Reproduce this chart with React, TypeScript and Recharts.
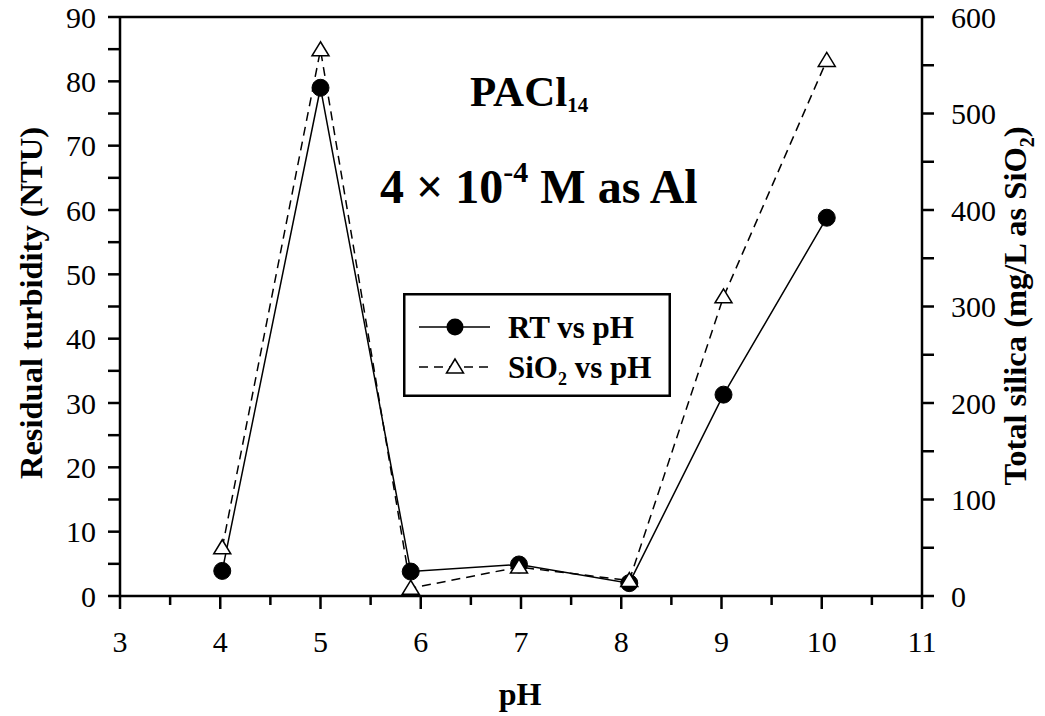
import React from 'react';
import { LineChart, Line, XAxis, YAxis, ReferenceLine, Legend } from 'recharts';

const phValues = [4.02, 5.0, 5.9, 6.98, 8.08, 9.02, 10.05];
const rtValues = [3.9, 79.0, 3.8, 4.9, 2.0, 31.3, 58.8];
const sio2Values = [50, 566, 8, 30, 16, 310, 555];

const xTicks = [3, 3.5, 4, 4.5, 5, 5.5, 6, 6.5, 7, 7.5, 8, 8.5, 9, 9.5, 10, 10.5, 11];
const leftTicks = [0, 5, 10, 15, 20, 25, 30, 35, 40, 45, 50, 55, 60, 65, 70, 75, 80, 85, 90];
const rightTicks = [0, 50, 100, 150, 200, 250, 300, 350, 400, 450, 500, 550, 600];

const data = phValues.map((ph, i) => ({ ph, rt: rtValues[i], sio2: sio2Values[i] }));

const FONT = '"Liberation Serif", "Times New Roman", serif';
const W = 1045;
const H = 716;

const BottomTick = (props: any) => {
  const { x, y, payload } = props;
  const v = payload.value;
  const major = Math.abs(v - Math.round(v)) < 1e-6;
  return (
    <g>
      <line x1={x} x2={x} y1={y} y2={y + (major ? 13 : 9)} stroke="#000" strokeWidth={2.5} />
      {major && (
        <text x={x} y={y + 56} textAnchor="middle" fontFamily={FONT} fontSize={30} fill="#000">
          {v}
        </text>
      )}
    </g>
  );
};

const LeftTick = (props: any) => {
  const { x, y, payload } = props;
  const v = payload.value;
  const major = v % 10 === 0;
  return (
    <g>
      <line x1={x - 12} x2={x} y1={y} y2={y} stroke="#000" strokeWidth={2.5} />
      {major && (
        <text x={x - 24} y={y} dy="0.35em" textAnchor="end" fontFamily={FONT} fontSize={30} fill="#000">
          {v}
        </text>
      )}
    </g>
  );
};

const RightTick = (props: any) => {
  const { x, y, payload } = props;
  const v = payload.value;
  const major = v % 100 === 0;
  return (
    <g>
      <line x1={x} x2={x + 12} y1={y} y2={y} stroke="#000" strokeWidth={2.5} />
      {major && (
        <text x={x + 29} y={y} dy="0.35em" textAnchor="start" fontFamily={FONT} fontSize={30} fill="#000">
          {v}
        </text>
      )}
    </g>
  );
};

const CircleDot = (props: any) => {
  const { cx, cy, index } = props;
  if (cx == null || cy == null) return <g key={index} />;
  return <circle key={index} cx={cx} cy={cy} r={8.5} fill="#000" stroke="#000" strokeWidth={1} />;
};

const TriangleDot = (props: any) => {
  const { cx, cy, index } = props;
  if (cx == null || cy == null) return <g key={index} />;
  const pts = `${cx},${cy - 8} ${cx - 8.5},${cy + 6} ${cx + 8.5},${cy + 6}`;
  return <polygon key={index} points={pts} fill="#fff" stroke="#000" strokeWidth={1.5} />;
};

const LegendContent = () => (
  <svg width={268} height={104} style={{ display: 'block' }}>
    <rect x={1.25} y={1.25} width={265.5} height={101.5} fill="#fff" stroke="#000" strokeWidth={2.5} />
    <line x1={16} x2={87} y1={34} y2={34} stroke="#000" strokeWidth={1.5} />
    <circle cx={52} cy={34} r={8.5} fill="#000" />
    <text x={105} y={34} dy="0.35em" fontFamily={FONT} fontWeight="bold" fontSize={31} fill="#000">
      RT vs pH
    </text>
    <line x1={16} x2={87} y1={74} y2={74} stroke="#000" strokeWidth={1.5} strokeDasharray="9 6" />
    <polygon points={`52,66 43.5,80 60.5,80`} fill="#fff" stroke="#000" strokeWidth={1.5} />
    <text x={105} y={74} dy="0.35em" fontFamily={FONT} fontWeight="bold" fontSize={31} fill="#000">
      SiO<tspan fontSize={18} dy={7}>2</tspan>
      <tspan dy={-7}> vs pH</tspan>
    </text>
  </svg>
);

export default function App() {
  return (
    <div style={{ position: 'absolute', left: 0, top: 0, width: W, height: H, background: '#fff' }}>
      <LineChart width={W} height={H} data={data} margin={{ top: 17, right: 0, bottom: 0, left: 0 }}>
        <XAxis
          dataKey="ph"
          type="number"
          domain={[3, 11]}
          ticks={xTicks}
          interval={0}
          height={120}
          tickLine={false}
          tickSize={0}
          tickMargin={0}
          axisLine={{ stroke: '#000', strokeWidth: 2.5 }}
          tick={<BottomTick />}
          allowDataOverflow
        />
        <YAxis
          yAxisId="left"
          orientation="left"
          type="number"
          domain={[0, 90]}
          ticks={leftTicks}
          interval={0}
          width={120}
          tickLine={false}
          tickSize={0}
          tickMargin={0}
          axisLine={{ stroke: '#000', strokeWidth: 2.5 }}
          tick={<LeftTick />}
          allowDataOverflow
        />
        <YAxis
          yAxisId="right"
          orientation="right"
          type="number"
          domain={[0, 600]}
          ticks={rightTicks}
          interval={0}
          width={123}
          tickLine={false}
          tickSize={0}
          tickMargin={0}
          axisLine={{ stroke: '#000', strokeWidth: 2.5 }}
          tick={<RightTick />}
          allowDataOverflow
        />
        <ReferenceLine yAxisId="left" y={90} stroke="#000" strokeWidth={2.5} ifOverflow="visible" />
        <Legend
          layout="horizontal"
          verticalAlign="middle"
          align="center"
          content={<LegendContent />}
          wrapperStyle={{ position: 'absolute', left: 403, top: 293, width: 268, height: 104, margin: 0, padding: 0 }}
        />
        <Line
          yAxisId="left"
          dataKey="rt"
          stroke="#000"
          strokeWidth={1.5}
          dot={<CircleDot />}
          activeDot={false}
          isAnimationActive={false}
          legendType="none"
        />
        <Line
          yAxisId="right"
          dataKey="sio2"
          stroke="#000"
          strokeWidth={1.5}
          strokeDasharray="9 6"
          dot={<TriangleDot />}
          activeDot={false}
          isAnimationActive={false}
          legendType="none"
        />
      </LineChart>
      <svg
        width={W}
        height={H}
        style={{ position: 'absolute', left: 0, top: 0, pointerEvents: 'none' }}
      >
        <text
          transform="translate(31,303) rotate(-90)"
          textAnchor="middle"
          dy="0.35em"
          fontFamily={FONT}
          fontWeight="bold"
          fontSize={32.5}
          fill="#000"
        >
          Residual turbidity (NTU)
        </text>
        <text
          transform="translate(1015,306) rotate(-90)"
          textAnchor="middle"
          dy="0.35em"
          fontFamily={FONT}
          fontWeight="bold"
          fontSize={32.5}
          fill="#000"
        >
          Total silica (mg/L as SiO<tspan fontSize={20} dy={8}>2</tspan>
          <tspan dy={-8}>)</tspan>
        </text>
        <text x={520} y={705} textAnchor="middle" fontFamily={FONT} fontWeight="bold" fontSize={32} fill="#000">
          pH
        </text>
        <text x={470} y={106} fontFamily={FONT} fontWeight="bold" fontSize={43} fill="#000">
          PACl<tspan fontSize={21} dy={6}>14</tspan>
        </text>
        <text x={380} y={203} fontFamily={FONT} fontWeight="bold" fontSize={48} fill="#000">
          4 ×  10<tspan fontSize={30} dy={-21}>-4</tspan>
          <tspan dy={21}> M as Al</tspan>
        </text>
      </svg>
    </div>
  );
}
